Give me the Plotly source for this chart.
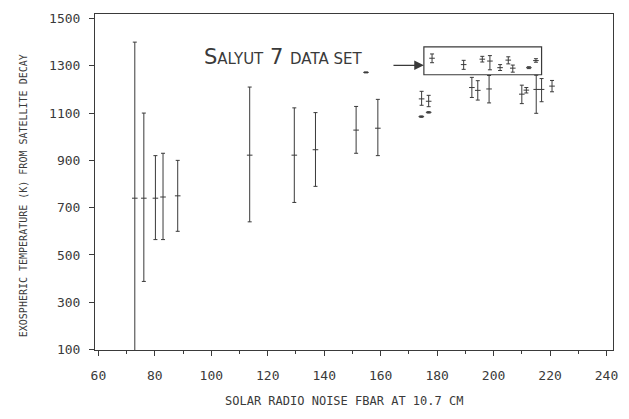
import plotly.graph_objects as go

# ---- data ----
fbar = [72.9, 76.1, 80.2, 82.9, 88.1, 113.6, 129.4, 136.9, 151.3, 159.0, 154.8,
        178.2, 189.4, 196.0, 198.7, 202.3, 205.2, 206.8, 212.5, 215.0,
        174.5, 177.0, 174.4, 177.0, 192.3, 194.4, 198.4, 210.0, 211.6, 215.1, 217.0, 220.7]
temp = [740, 740, 740, 745, 750, 922, 922, 945, 1028, 1036, 1272,
        1332, 1305, 1328, 1320, 1292, 1324, 1290, 1292, 1322,
        1160, 1150, 1085, 1103, 1208, 1196, 1202, 1180, 1197, 1200, 1200, 1214]
temp_low = [75, 388, 565, 565, 600, 640, 722, 790, 930, 920, 1270,
            1313, 1285, 1316, 1283, 1280, 1308, 1273, 1288, 1315,
            1133, 1127, 1082, 1100, 1166, 1155, 1143, 1140, 1185, 1099, 1148, 1190]
temp_high = [1400, 1100, 920, 930, 900, 1210, 1122, 1102, 1128, 1158, 1274,
             1350, 1323, 1340, 1343, 1305, 1338, 1303, 1296, 1330,
             1192, 1175, 1088, 1106, 1251, 1237, 1259, 1218, 1208, 1260, 1246, 1238]

x_ticks = [60, 80, 100, 120, 140, 160, 180, 200, 220, 240]
y_ticks = [100, 300, 500, 700, 900, 1100, 1300, 1500]

err_plus = [h - t for h, t in zip(temp_high, temp)]
err_minus = [t - l for t, l in zip(temp, temp_low)]

INK = "#3a3a3a"
MONO = "DejaVu Sans Mono"

fig = go.Figure()
fig.add_trace(go.Scatter(
    x=fbar, y=temp, mode="markers",
    marker=dict(symbol="line-ew", size=4, line=dict(width=1, color=INK), color=INK),
    error_y=dict(type="data", symmetric=False, array=err_plus, arrayminus=err_minus,
                 color=INK, thickness=1, width=2),
    showlegend=False, cliponaxis=True,
))

fig.update_layout(
    width=613, height=403,
    margin=dict(l=87, r=6, t=3, b=61),
    paper_bgcolor="white", plot_bgcolor="white",
    font=dict(family=MONO, color=INK),
    xaxis=dict(range=[58.8, 242.3], tickvals=x_ticks, ticktext=[str(v) for v in x_ticks],
               showgrid=False, zeroline=False, showline=True, mirror=True,
               linecolor=INK, linewidth=1, ticks="outside", ticklen=5, tickcolor=INK,
               tickfont=dict(family=MONO, size=13, color=INK), ticklabelstandoff=8,
               minor=dict(dtick=10, tick0=60, ticks="outside", ticklen=3, tickcolor=INK, showgrid=False)),
    yaxis=dict(range=[98, 1519], tickvals=y_ticks, ticktext=[str(v) for v in y_ticks],
               showgrid=False, zeroline=False, showline=True, mirror=True,
               linecolor=INK, linewidth=1, ticks="outside", ticklen=5, tickcolor=INK,
               tickfont=dict(family=MONO, size=13, color=INK), ticklabelstandoff=6),
    shapes=[dict(type="rect", xref="x", yref="y", x0=175.3, x1=217.0, y0=1262, y1=1380,
                 line=dict(color=INK, width=1.2), fillcolor="rgba(0,0,0,0)")],
    annotations=[
        dict(xref="x", yref="y", x=175.3, y=1302, ax=164, ay=1302, axref="x", ayref="y",
             text="", showarrow=True, arrowhead=2, arrowsize=1.6, arrowwidth=1.2, arrowcolor=INK),
        dict(xref="x", yref="y", x=96.6, y=1336, xanchor="left", yanchor="middle", showarrow=False,
             text="S<span style='font-size:15px'>ALYUT</span> 7 <span style='font-size:15px'>DATA SET</span>",
             font=dict(family="DejaVu Sans", size=21, color=INK)),
        dict(xref="paper", yref="paper", x=0.481, y=-0.153, xanchor="center", yanchor="middle",
             showarrow=False, text="SOLAR RADIO NOISE FBAR AT 10.7 CM",
             font=dict(family=MONO, size=12, color=INK)),
        dict(xref="paper", yref="paper", x=-0.1375, y=0.46, xanchor="center", yanchor="middle",
             showarrow=False, textangle=-90,
             text="EXOSPHERIC TEMPERATURE (K) FROM SATELLITE DECAY",
             font=dict(family=MONO, size=10, color=INK)),
    ],
)

fig.write_html("out.html")
